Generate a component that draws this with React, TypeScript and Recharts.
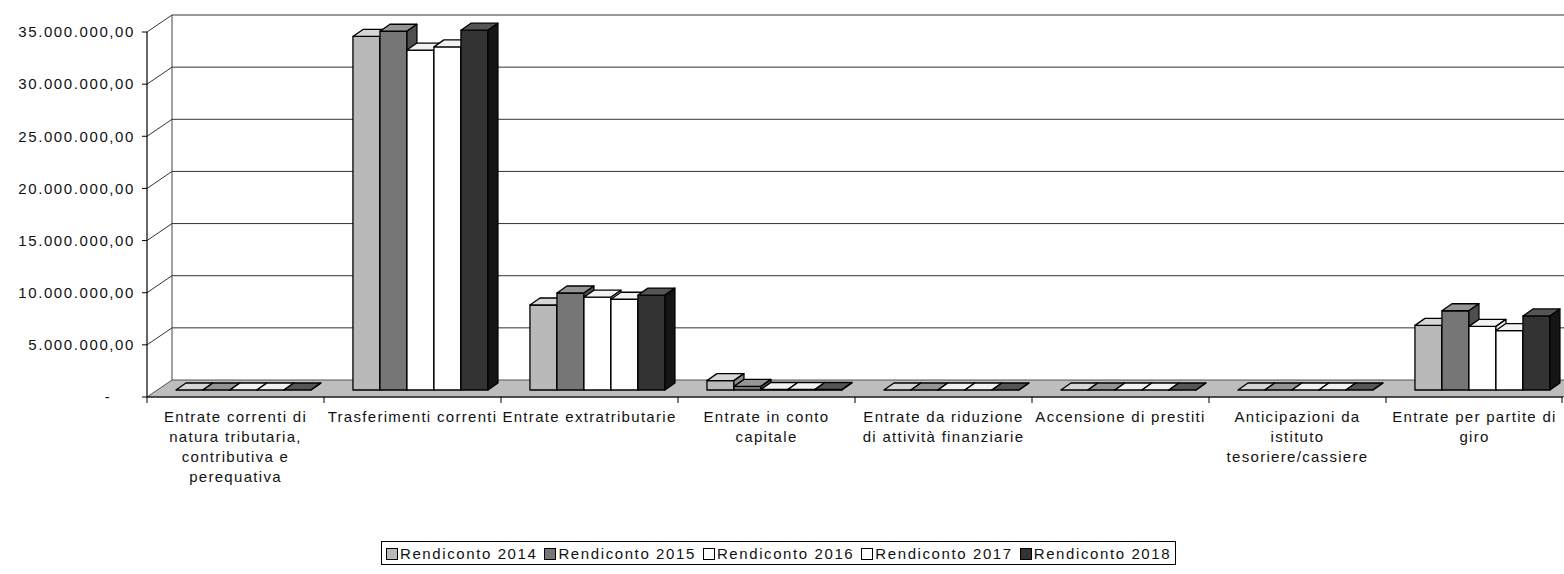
import { BarChart, Bar, XAxis, YAxis, CartesianGrid, Legend } from 'recharts';

const categories = [
  'Entrate correnti di natura tributaria, contributiva e perequativa',
  'Trasferimenti correnti',
  'Entrate extratributarie',
  'Entrate in conto capitale',
  'Entrate da riduzione di attività finanziarie',
  'Accensione di prestiti',
  'Anticipazioni da istituto tesoriere/cassiere',
  'Entrate per partite di giro',
];

// how the category labels wrap under the axis
const categoryLines = [
  ['Entrate correnti di', 'natura tributaria,', 'contributiva e', 'perequativa'],
  ['Trasferimenti correnti'],
  ['Entrate extratributarie'],
  ['Entrate in conto', 'capitale'],
  ['Entrate da riduzione', 'di attività finanziarie'],
  ['Accensione di prestiti'],
  ['Anticipazioni da', 'istituto', 'tesoriere/cassiere'],
  ['Entrate per partite di', 'giro'],
];

const seriesNames = ['Rendiconto 2014', 'Rendiconto 2015', 'Rendiconto 2016', 'Rendiconto 2017', 'Rendiconto 2018'];

const rend2014 = [0, 33900000, 8150000, 900000, 0, 0, 0, 6200000];
const rend2015 = [0, 34400000, 9300000, 350000, 0, 0, 0, 7600000];
const rend2016 = [0, 32600000, 8900000, 50000, 0, 0, 0, 6100000];
const rend2017 = [0, 32900000, 8700000, 50000, 0, 0, 0, 5700000];
const rend2018 = [0, 34500000, 9100000, 50000, 0, 0, 0, 7100000];

const yTicks = [0, 5000000, 10000000, 15000000, 20000000, 25000000, 30000000, 35000000];

const data = categories.map((name, i) => ({
  name,
  r2014: rend2014[i],
  r2015: rend2015[i],
  r2016: rend2016[i],
  r2017: rend2017[i],
  r2018: rend2018[i],
}));

// fills per series: front, top, side
const looks = [
  { key: 'r2014', front: '#b9b9b9', top: '#d6d6d6', side: '#8c8c8c' },
  { key: 'r2015', front: '#767676', top: '#959595', side: '#4e4e4e' },
  { key: 'r2016', front: '#ffffff', top: '#f2f2f2', side: '#e6e6e6' },
  { key: 'r2017', front: '#ffffff', top: '#f2f2f2', side: '#e6e6e6' },
  { key: 'r2018', front: '#333333', top: '#555555', side: '#151515' },
];

const FONT = '"Liberation Sans", Arial, sans-serif';
const W = 1564;
const H = 574;
const MARGIN = { top: 32, right: 1, left: 7, bottom: 67 };
const Y_AXIS_W = 140;
const X_AXIS_H = 110;
const PLOT_W = W - MARGIN.left - MARGIN.right - Y_AXIS_W;
const BAND = PLOT_W / categories.length;

// 3d offsets: back wall, bar front plane, bar depth
const BACK = { x: 25, y: -17 };
const FRONT = { x: 7, y: -7 };
const DEPTH = { x: 10, y: -7 };

const fmt = (v: number) =>
  v === 0 ? '-' : v.toLocaleString('de-DE', { minimumFractionDigits: 2, maximumFractionDigits: 2 });

const Box3D = (props: any) => {
  const { x, y, width, height, front, top, side } = props;
  const h = Math.max(height || 0, 0);
  const fx = x + FRONT.x;
  const fy = y + FRONT.y;
  return (
    <g stroke="#000" strokeWidth={1.3} strokeLinejoin="round">
      <rect x={fx} y={fy} width={width} height={h} fill={front} />
      <polygon
        points={`${fx},${fy} ${fx + DEPTH.x},${fy + DEPTH.y} ${fx + width + DEPTH.x},${fy + DEPTH.y} ${fx + width},${fy}`}
        fill={top}
      />
      <polygon
        points={`${fx + width},${fy} ${fx + width + DEPTH.x},${fy + DEPTH.y} ${fx + width + DEPTH.x},${fy + h + DEPTH.y} ${fx + width},${fy + h}`}
        fill={side}
      />
    </g>
  );
};

const wallLine = (p: any) => {
  const { x1, y1, x2, y, height } = p;
  const bottom = (y ?? 0) + (height ?? 0);
  if (Math.abs(y1 - bottom) < 1) {
    // floor
    return (
      <g key={p.key}>
        <polygon
          points={`${x1},${y1} ${x2},${y1} ${x2 + BACK.x},${y1 + BACK.y} ${x1 + BACK.x},${y1 + BACK.y}`}
          fill="#bdbdbd"
          stroke="#555"
          strokeWidth={1}
        />
        <line x1={x1 + BACK.x} y1={y1 + BACK.y} x2={x1 + BACK.x} y2={y + BACK.y} stroke="#444" strokeWidth={1} />
      </g>
    );
  }
  return (
    <g key={p.key} stroke="#333" strokeWidth={1}>
      <line x1={x1} y1={y1} x2={x1 + BACK.x} y2={y1 + BACK.y} />
      <line x1={x1 + BACK.x} y1={y1 + BACK.y} x2={x2 + BACK.x} y2={y1 + BACK.y} />
    </g>
  );
};

const YTick = (props: any) => {
  const { x, y, payload } = props;
  const isZero = payload.value === 0;
  return (
    <text
      x={isZero ? x - 27 : x}
      y={y}
      dy="0.35em"
      textAnchor={isZero ? 'middle' : 'end'}
      fontFamily={FONT}
      fontSize={15}
      letterSpacing={1.6}
      fill="#111"
    >
      {fmt(payload.value)}
    </text>
  );
};

const XTick = (props: any) => {
  const { x, y, payload, index } = props;
  const lines = categoryLines[index] ?? [payload.value];
  return (
    <g>
      <line x1={x - BAND / 2} y1={y} x2={x - BAND / 2} y2={y + 6} stroke="#000" />
      {index === categories.length - 1 && (
        <line x1={x + BAND / 2 - 1} y1={y} x2={x + BAND / 2 - 1} y2={y + 6} stroke="#000" />
      )}
      <text x={x} y={y + 25} textAnchor="middle" fontFamily={FONT} fontSize={15} letterSpacing={1.3} fill="#111">
        {lines.map((l, i) => (
          <tspan key={i} x={x} dy={i === 0 ? 0 : 20}>
            {l}
          </tspan>
        ))}
      </text>
    </g>
  );
};

const LegendBox = () => (
  <div
    style={{
      display: 'inline-flex',
      alignItems: 'center',
      border: '1px solid #000',
      padding: '3px 4px 2px 4px',
      fontFamily: FONT,
      fontSize: 15,
      letterSpacing: 1.6,
      color: '#111',
      background: '#fff',
      whiteSpace: 'nowrap',
      lineHeight: '17px',
    }}
  >
    {seriesNames.map((n, i) => (
      <span key={n} style={{ display: 'inline-flex', alignItems: 'center', marginRight: i < seriesNames.length - 1 ? 7 : 0 }}>
        <span
          style={{
            display: 'inline-block',
            width: 10,
            height: 10,
            border: '1px solid #000',
            background: looks[i].front,
            marginRight: 2,
          }}
        />
        {n}
      </span>
    ))}
  </div>
);

export default function App() {
  return (
    <div style={{ position: 'absolute', left: 0, top: 0, width: W, height: H, background: '#fff' }}>
      <BarChart width={W} height={H} data={data} margin={MARGIN} barCategoryGap="12.4%" barGap={0}>
        <CartesianGrid vertical={false} horizontal={wallLine} />
        <XAxis
          dataKey="name"
          height={X_AXIS_H}
          interval={0}
          tickLine={false}
          tickSize={0}
          tickMargin={0}
          axisLine={{ stroke: '#000', strokeWidth: 1.2 }}
          tick={<XTick />}
        />
        <YAxis
          width={Y_AXIS_W}
          domain={[0, 35000000]}
          ticks={yTicks}
          interval={0}
          tickSize={5}
          tickMargin={7}
          tickLine={{ stroke: '#000' }}
          axisLine={{ stroke: '#000', strokeWidth: 1.2 }}
          tick={<YTick />}
        />
        <Legend
          layout="horizontal"
          verticalAlign="middle"
          align="center"
          content={() => <LegendBox />}
          wrapperStyle={{ position: 'absolute', left: 381, top: 541, width: 'auto', height: 'auto' }}
        />
        {looks.map((lk, i) => (
          <Bar
            key={lk.key}
            dataKey={lk.key}
            name={seriesNames[i]}
            isAnimationActive={false}
            shape={(p: any) => <Box3D {...p} front={lk.front} top={lk.top} side={lk.side} />}
          />
        ))}
      </BarChart>
    </div>
  );
}
